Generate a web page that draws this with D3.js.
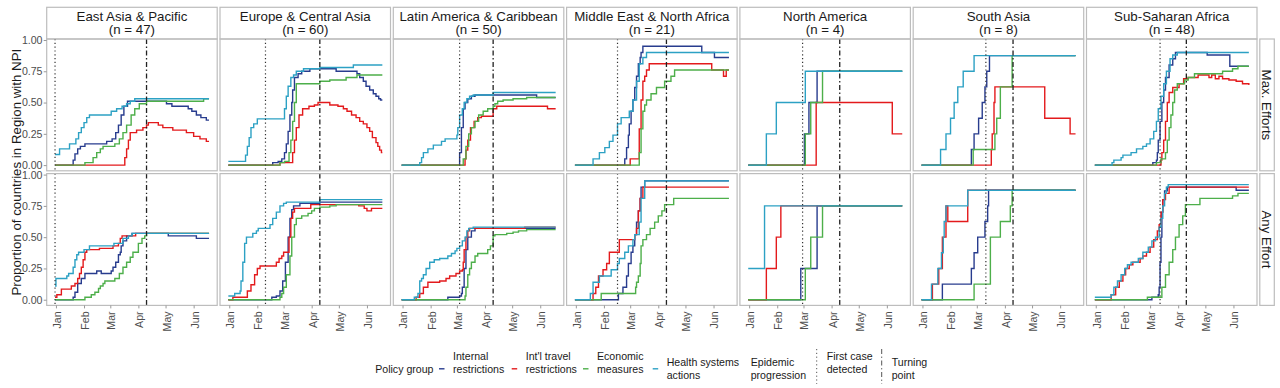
<!DOCTYPE html>
<html>
<head>
<meta charset="utf-8">
<script src="https://cdn.jsdelivr.net/npm/d3@7"></script>
<style>
  body { margin: 0; background: #fff; }
  svg { font-family: "Liberation Sans", Arial, sans-serif; }
</style>
</head>
<body>
<svg id="chart" width="1280" height="388"></svg>
<script>
// Facet columns (regions) and rows (effort level)
var regions = ['East Asia & Pacific', 'Europe & Central Asia', 'Latin America & Caribbean',
               'Middle East & North Africa', 'North America', 'South Asia', 'Sub-Saharan Africa'];
var regionN = [47, 60, 50, 21, 4, 8, 48];
var effortRows = ['Max. Efforts', 'Any Effort'];

var policyGroups = ['Internal\nrestrictions', "Int'l travel\nrestrictions", 'Economic\nmeasures', 'Health systems\nactions'];
var policyColors = ['#283c8e', '#e31a1c', '#4daf4a', '#2ca1c4'];
var epidemicMarkers = ['First case\ndetected', 'Turning\npoint'];

var monthLabels = ['Jan', 'Feb', 'Mar', 'Apr', 'May', 'Jun'];
var yTicks = [0, 0.25, 0.5, 0.75, 1];

// Epidemic progression markers, days since 1 Jan 2020
var firstCaseDay = [-1, 40, 63, 46, 59, 70, 71];
var turningPointDay = [100, 100, 100, 100, 100, 100, 100];

// Step series [day since 1 Jan 2020, proportion]; order: internal, travel, economic, health
var eapMax = [
  [[-1,0],[19,0.04],[21,0.09],[24,0.13],[27,0.15],[32,0.17],[56,0.19],[62,0.21],[66,0.26],[69,0.32],[72,0.4],[75,0.47],[79,0.51],[122,0.49],[128,0.47],[146,0.45],[150,0.43],[155,0.4],[160,0.38],[166,0.36],[169,0.36]],
  [[-1,0],[76,0.06],[78,0.13],[80,0.2],[82,0.26],[89,0.28],[96,0.3],[100,0.32],[102,0.34],[113,0.32],[118,0.3],[129,0.28],[144,0.26],[152,0.23],[159,0.21],[166,0.19],[169,0.19]],
  [[-1,0],[32,0.02],[41,0.06],[45,0.1],[49,0.13],[52,0.15],[65,0.17],[70,0.21],[74,0.26],[78,0.32],[83,0.4],[87,0.45],[92,0.49],[100,0.51],[163,0.53],[169,0.53]],
  [[-1,0.085],[4,0.13],[15,0.17],[22,0.21],[25,0.26],[28,0.3],[31,0.34],[34,0.38],[37,0.4],[61,0.43],[67,0.45],[73,0.47],[78,0.49],[82,0.51],[87,0.53],[169,0.53]]
];
var eapAny = [
  [[-1,0],[19,0.02],[21,0.06],[24,0.13],[28,0.17],[32,0.21],[45,0.23],[50,0.21],[61,0.23],[63,0.26],[66,0.3],[69,0.36],[71,0.38],[72,0.43],[74,0.47],[78,0.51],[84,0.53],[124,0.51],[155,0.49],[169,0.49]],
  [[-1,0.02],[1,0.04],[6,0.085],[17,0.11],[21,0.13],[24,0.17],[26,0.21],[28,0.26],[30,0.32],[32,0.38],[34,0.4],[48,0.41],[63,0.43],[69,0.45],[71,0.49],[73,0.51],[88,0.53],[169,0.53]],
  [[-1,0],[32,0.02],[39,0.04],[43,0.06],[47,0.09],[49,0.11],[52,0.13],[54,0.15],[65,0.17],[70,0.21],[74,0.26],[78,0.3],[82,0.34],[85,0.38],[91,0.45],[95,0.49],[98,0.51],[100,0.53],[169,0.53]],
  [[-1,0.11],[0,0.17],[12,0.19],[14,0.21],[19,0.26],[21,0.32],[23,0.36],[25,0.38],[31,0.4],[37,0.43],[64,0.45],[74,0.49],[80,0.51],[84,0.53],[169,0.53]]
];
var ecaMax = [
  [[-1,0],[48,0.02],[54,0.03],[58,0.05],[61,0.1],[63,0.17],[65,0.27],[67,0.4],[69,0.5],[70,0.6],[72,0.7],[76,0.73],[80,0.75],[89,0.77],[118,0.75],[141,0.73],[144,0.7],[148,0.67],[151,0.63],[155,0.6],[159,0.57],[162,0.55],[165,0.53],[167,0.52],[169,0.52]],
  [[-1,0],[56,0.02],[70,0.1],[72,0.2],[74,0.3],[77,0.4],[81,0.45],[88,0.47],[94,0.48],[98,0.5],[111,0.48],[120,0.47],[126,0.45],[130,0.43],[135,0.4],[140,0.38],[144,0.35],[148,0.33],[152,0.3],[155,0.27],[158,0.22],[162,0.18],[164,0.15],[166,0.12],[168,0.1],[169,0.1]],
  [[-1,0],[56,0.02],[61,0.03],[66,0.1],[68,0.2],[70,0.35],[72,0.5],[74,0.65],[100,0.67],[111,0.68],[129,0.7],[141,0.72],[169,0.72]],
  [[-1,0.03],[18,0.08],[20,0.15],[22,0.22],[24,0.3],[27,0.33],[31,0.37],[61,0.45],[63,0.55],[65,0.63],[68,0.7],[71,0.72],[74,0.75],[82,0.77],[100,0.78],[137,0.8],[169,0.8]]
];
var ecaAny = [
  [[-1,0],[47,0.02],[52,0.03],[56,0.07],[59,0.15],[62,0.3],[65,0.5],[67,0.65],[69,0.72],[71,0.75],[78,0.77],[100,0.78],[169,0.78]],
  [[-1,0],[4,0.02],[20,0.07],[24,0.12],[28,0.2],[31,0.25],[34,0.27],[52,0.3],[55,0.33],[58,0.35],[60,0.38],[66,0.5],[68,0.65],[70,0.7],[72,0.73],[90,0.76],[143,0.75],[149,0.73],[152,0.71],[157,0.73],[169,0.73]],
  [[-1,0],[56,0.02],[58,0.05],[60,0.1],[63,0.2],[67,0.35],[69,0.5],[72,0.6],[74,0.65],[80,0.67],[87,0.69],[91,0.71],[94,0.73],[100,0.74],[111,0.75],[118,0.76],[169,0.76]],
  [[-1,0.03],[6,0.05],[12,0.07],[13,0.15],[15,0.3],[17,0.45],[19,0.5],[26,0.53],[30,0.55],[32,0.57],[45,0.6],[48,0.65],[52,0.7],[56,0.75],[60,0.77],[63,0.78],[100,0.8],[169,0.8]]
];
var lacMax = [
  [[-1,0],[63,0.1],[65,0.3],[67,0.45],[69,0.5],[72,0.53],[76,0.55],[80,0.56],[148,0.54],[169,0.54]],
  [[-1,0],[69,0.05],[70,0.12],[72,0.2],[75,0.3],[79,0.35],[83,0.38],[87,0.39],[100,0.45],[104,0.47],[160,0.45],[169,0.45]],
  [[-1,0],[67,0.05],[70,0.15],[73,0.25],[76,0.3],[80,0.35],[84,0.4],[89,0.43],[94,0.45],[100,0.47],[102,0.49],[105,0.51],[111,0.52],[122,0.53],[137,0.54],[169,0.54]],
  [[-1,0],[19,0.02],[21,0.06],[23,0.1],[28,0.13],[34,0.16],[43,0.19],[47,0.21],[60,0.24],[61,0.3],[63,0.4],[66,0.45],[68,0.5],[71,0.53],[74,0.55],[78,0.56],[100,0.58],[169,0.58]]
];
var lacAny = [
  [[-1,0],[50,0.02],[63,0.03],[65,0.05],[66,0.1],[68,0.25],[70,0.4],[72,0.5],[76,0.55],[80,0.57],[169,0.57]],
  [[-1,0],[15,0.02],[19,0.05],[23,0.1],[28,0.14],[41,0.15],[48,0.17],[52,0.19],[59,0.21],[63,0.23],[66,0.24],[67,0.3],[68,0.4],[70,0.5],[72,0.55],[74,0.57],[135,0.58],[169,0.58]],
  [[-1,0],[69,0.03],[70,0.1],[72,0.2],[74,0.25],[76,0.3],[80,0.35],[83,0.37],[94,0.4],[97,0.43],[100,0.51],[102,0.52],[115,0.53],[122,0.54],[128,0.55],[137,0.56],[169,0.56]],
  [[-1,0],[13,0.02],[17,0.05],[19,0.15],[21,0.17],[23,0.2],[26,0.25],[30,0.3],[35,0.32],[41,0.33],[50,0.35],[54,0.37],[58,0.39],[60,0.41],[63,0.43],[66,0.47],[69,0.5],[71,0.55],[73,0.57],[78,0.58],[169,0.58]]
];
var menaMax = [
  [[-1,0],[54,0.05],[56,0.14],[58,0.24],[59,0.33],[61,0.43],[63,0.52],[65,0.62],[67,0.71],[69,0.81],[71,0.86],[72,0.9],[74,0.95],[139,0.9],[153,0.86],[169,0.86]],
  [[-1,0],[60,0.05],[70,0.29],[72,0.52],[74,0.67],[76,0.71],[78,0.76],[81,0.81],[150,0.76],[163,0.71],[166,0.76],[169,0.76]],
  [[-1,0],[70,0.1],[72,0.29],[74,0.43],[76,0.48],[78,0.52],[83,0.57],[89,0.62],[98,0.67],[105,0.71],[109,0.76],[169,0.76]],
  [[-1,0],[19,0.05],[26,0.1],[32,0.14],[37,0.19],[41,0.24],[46,0.33],[50,0.38],[59,0.43],[63,0.52],[67,0.67],[70,0.81],[74,0.86],[78,0.9],[169,0.9]]
];
var menaAny = [
  [[-1,0],[47,0.05],[52,0.1],[56,0.19],[58,0.29],[61,0.38],[63,0.43],[65,0.52],[67,0.62],[69,0.71],[71,0.81],[72,0.9],[76,0.95],[169,0.95]],
  [[-1,0],[19,0.05],[22,0.1],[25,0.19],[30,0.24],[34,0.29],[37,0.38],[48,0.48],[65,0.52],[67,0.57],[69,0.71],[71,0.81],[74,0.9],[169,0.9]],
  [[-1,0],[28,0.05],[66,0.1],[67,0.14],[69,0.19],[71,0.29],[72,0.43],[74,0.48],[78,0.52],[82,0.57],[87,0.62],[91,0.67],[95,0.71],[98,0.76],[108,0.81],[169,0.81]],
  [[-1,0],[16,0.05],[19,0.14],[26,0.19],[39,0.24],[46,0.29],[48,0.33],[54,0.38],[58,0.43],[63,0.48],[65,0.52],[70,0.62],[72,0.81],[76,0.95],[169,0.95]]
];
var naMax = [
  [[-1,0],[61,0.25],[66,0.5],[75,0.75],[169,0.75]],
  [[-1,0],[74,0.5],[158,0.25],[169,0.25]],
  [[-1,0],[62,0.25],[68,0.5],[81,0.75],[169,0.75]],
  [[-1,0],[19,0.25],[30,0.5],[62,0.75],[169,0.75]]
];
var naAny = [
  [[-1,0],[57,0.25],[75,0.75],[169,0.75]],
  [[-1,0],[19,0.25],[30,0.5],[35,0.75],[169,0.75]],
  [[-1,0],[62,0.25],[68,0.5],[81,0.75],[169,0.75]],
  [[-1,0.25],[17,0.75],[169,0.75]]
];
var saMax = [
  [[-1,0],[54,0.125],[57,0.25],[62,0.375],[66,0.5],[69,0.625],[71,0.75],[74,0.875],[169,0.875]],
  [[-1,0],[76,0.125],[77,0.25],[79,0.5],[80,0.625],[135,0.375],[163,0.25],[169,0.25]],
  [[-1,0],[56,0.125],[80,0.25],[82,0.375],[86,0.625],[99,0.875],[169,0.875]],
  [[-1,0],[20,0.125],[26,0.25],[31,0.375],[35,0.5],[39,0.625],[45,0.75],[57,0.875],[169,0.875]]
];
var saAny = [
  [[-1,0],[22,0.125],[54,0.25],[57,0.375],[61,0.5],[69,0.625],[72,0.75],[73,0.875],[169,0.875]],
  [[-1,0],[11,0.125],[18,0.25],[22,0.5],[26,0.75],[28,0.625],[50,0.875],[169,0.875]],
  [[-1,0],[57,0.125],[75,0.5],[86,0.625],[97,0.75],[99,0.875],[169,0.875]],
  [[-1,0],[10,0.125],[17,0.25],[21,0.375],[23,0.5],[24,0.625],[26,0.75],[50,0.875],[169,0.875]]
];
var ssaMax = [
  [[-1,0],[63,0.02],[67,0.04],[68,0.1],[69,0.2],[71,0.35],[73,0.5],[75,0.6],[77,0.7],[81,0.8],[85,0.85],[88,0.9],[123,0.88],[148,0.79],[169,0.79]],
  [[-1,0],[72,0.04],[73,0.1],[75,0.2],[77,0.35],[79,0.5],[81,0.58],[85,0.62],[92,0.65],[97,0.69],[102,0.7],[113,0.72],[125,0.7],[128,0.72],[132,0.69],[136,0.71],[140,0.69],[147,0.68],[155,0.67],[162,0.65],[169,0.64]],
  [[-1,0],[67,0.02],[72,0.05],[77,0.1],[79,0.2],[81,0.3],[83,0.4],[85,0.5],[87,0.6],[90,0.65],[98,0.68],[102,0.7],[109,0.73],[140,0.75],[151,0.77],[157,0.79],[169,0.79]],
  [[-1,0],[18,0.02],[20,0.04],[28,0.06],[30,0.08],[39,0.1],[45,0.13],[52,0.15],[56,0.17],[60,0.21],[64,0.27],[67,0.35],[69,0.45],[72,0.55],[75,0.65],[78,0.75],[82,0.85],[85,0.88],[90,0.9],[169,0.9]]
];
var ssaAny = [
  [[-1,0],[62,0.02],[69,0.04],[70,0.1],[71,0.3],[72,0.5],[73,0.7],[74,0.8],[76,0.87],[79,0.9],[155,0.875],[169,0.875]],
  [[-1,0],[17,0.04],[22,0.1],[26,0.15],[30,0.2],[33,0.25],[37,0.28],[41,0.3],[49,0.33],[52,0.35],[56,0.38],[60,0.42],[64,0.48],[68,0.55],[70,0.6],[72,0.7],[74,0.8],[77,0.85],[81,0.9],[169,0.9]],
  [[-1,0],[57,0.02],[73,0.1],[77,0.2],[81,0.3],[85,0.4],[88,0.5],[92,0.6],[96,0.67],[99,0.76],[115,0.81],[151,0.83],[157,0.85],[169,0.85]],
  [[-1,0.02],[17,0.04],[20,0.1],[24,0.15],[28,0.2],[32,0.25],[35,0.28],[39,0.3],[47,0.33],[52,0.38],[58,0.42],[62,0.47],[66,0.5],[70,0.58],[72,0.65],[74,0.75],[76,0.85],[78,0.9],[80,0.92],[169,0.92]]
];

var regionSeries = [[eapMax, eapAny], [ecaMax, ecaAny], [lacMax, lacAny], [menaMax, menaAny],
                    [naMax, naAny], [saMax, saAny], [ssaMax, ssaAny]];

// Layout
var panelW = 170.5, panelH = 131.8, gap = 2.8,
    panelLeft = 46.7, panelTop = 39, stripTop = 7.3;
var borderColor = '#bdbdbd', axisGrey = '#4d4d4d';

function colX(i) { return panelLeft + i * (panelW + gap); }
function rowY(j) { return panelTop + j * (panelH + gap); }

var jan1 = new Date(2020, 0, 1);
function toDate(d) { return new Date(jan1.getTime() + d * 864e5); }

var svg = d3.select('#chart');

var x = d3.scaleTime()
          .domain([toDate(-10.2), toDate(178)])
          .range([0, panelW]);

var y = d3.scaleLinear()
          .domain([-0.0454, 1.008])
          .range([panelH, 0]);

var line = d3.line()
             .x(function(d) { return x(toDate(d[0])); })
             .y(function(d) { return y(d[1]); })
             .curve(d3.curveStepAfter);

var monthDates = d3.timeMonth.range(jan1, new Date(2020, 6, 1));

regions.forEach(function(name, i) {
  // Top strip with region name and n
  var strip = svg.append('g')
                 .attr('transform', 'translate(' + colX(i) + ',' + stripTop + ')');
  strip.append('rect')
       .attr('width', panelW)
       .attr('height', panelTop - stripTop)
       .attr('fill', '#fff')
       .attr('stroke', borderColor)
       .attr('stroke-width', 1.2);
  strip.append('text')
       .attr('x', panelW / 2)
       .attr('y', 8.8)
       .attr('dy', '0.35em')
       .attr('text-anchor', 'middle')
       .attr('font-size', 13.3)
       .attr('fill', '#1a1a1a')
       .text(name);
  strip.append('text')
       .attr('x', panelW / 2)
       .attr('y', 22)
       .attr('dy', '0.35em')
       .attr('text-anchor', 'middle')
       .attr('font-size', 13.3)
       .attr('fill', '#1a1a1a')
       .text('(n = ' + regionN[i] + ')');

  effortRows.forEach(function(rowName, j) {
    var g = svg.append('g')
               .attr('transform', 'translate(' + colX(i) + ',' + rowY(j) + ')');

    // Policy group step lines
    regionSeries[i][j].forEach(function(s, k) {
      g.append('path')
       .datum(s)
       .attr('d', line)
       .attr('fill', 'none')
       .attr('stroke', policyColors[k])
       .attr('stroke-width', 1.4);
    });

    // Epidemic progression markers
    g.append('line')
     .attr('x1', x(toDate(firstCaseDay[i])))
     .attr('x2', x(toDate(firstCaseDay[i])))
     .attr('y1', 0)
     .attr('y2', panelH)
     .attr('stroke', '#333')
     .attr('stroke-width', 1.2)
     .attr('stroke-dasharray', '1.2,2.6');
    g.append('line')
     .attr('x1', x(toDate(turningPointDay[i])))
     .attr('x2', x(toDate(turningPointDay[i])))
     .attr('y1', 0)
     .attr('y2', panelH)
     .attr('stroke', '#222')
     .attr('stroke-width', 1.3)
     .attr('stroke-dasharray', '5,2.6,1.3,2.6');

    g.append('rect')
     .attr('width', panelW)
     .attr('height', panelH)
     .attr('fill', 'none')
     .attr('stroke', borderColor)
     .attr('stroke-width', 1.2);
  });

  // x-axis below the bottom row
  var xg = svg.append('g')
              .attr('transform', 'translate(' + colX(i) + ',' + (rowY(1) + panelH) + ')')
              .call(d3.axisBottom(x)
                      .tickValues(monthDates)
                      .tickSize(3)
                      .tickFormat(function(d, k) { return monthLabels[k]; }));
  xg.select('.domain').remove();
  xg.selectAll('.tick line').attr('stroke', '#999');
  xg.selectAll('.tick text')
    .attr('transform', 'rotate(-90)')
    .attr('x', -6)
    .attr('y', 0)
    .attr('dy', '0.42em')
    .attr('text-anchor', 'end')
    .attr('font-size', 10.6)
    .attr('fill', axisGrey);
  xg.attr('font-family', null);
});

// Right strips
effortRows.forEach(function(rowName, j) {
  var rs = svg.append('g')
              .attr('transform', 'translate(' + (colX(6) + panelW + gap) + ',' + rowY(j) + ')');
  rs.append('rect')
    .attr('width', 14.5)
    .attr('height', panelH)
    .attr('fill', '#fff')
    .attr('stroke', borderColor)
    .attr('stroke-width', 1.2);
  rs.append('text')
    .attr('transform', 'translate(7.2,' + (panelH / 2) + ') rotate(90)')
    .attr('dy', '0.35em')
    .attr('text-anchor', 'middle')
    .attr('font-size', 13.3)
    .attr('fill', '#1a1a1a')
    .text(rowName);

  // y-axis on the first column
  var yg = svg.append('g')
              .attr('transform', 'translate(' + colX(0) + ',' + rowY(j) + ')')
              .call(d3.axisLeft(y)
                      .tickValues(yTicks)
                      .tickSize(3)
                      .tickPadding(1.2)
                      .tickFormat(d3.format('.2f')));
  yg.select('.domain').remove();
  yg.attr('font-family', null);
  yg.selectAll('.tick line').attr('stroke', '#999');
  yg.selectAll('.tick text')
    .attr('font-size', 10.6)
    .attr('fill', axisGrey);
});

// y-axis title
svg.append('text')
   .attr('transform', 'translate(16.5,' + ((panelTop + rowY(1) + panelH) / 2) + ') rotate(-90)')
   .attr('dy', '0.35em')
   .attr('text-anchor', 'middle')
   .attr('font-size', 13.3)
   .attr('fill', '#1a1a1a')
   .text('Proportion of countries in Region with NPI');

// Legend
var legend = svg.append('g')
                .attr('font-size', 10.6)
                .attr('fill', '#1a1a1a');

function multiline(xPos, yFirst, label) {
  var t = legend.append('text').attr('x', xPos);
  label.split('\n').forEach(function(part, k) {
    t.append('tspan')
     .attr('x', xPos)
     .attr('y', yFirst + k * 12.3)
     .attr('dy', '0.35em')
     .text(part);
  });
}

var keyY = 368.8;
var policyKeyX = [439, 511.7, 583, 652.7];
var policyLabelY = [356.7, 356.7, 356.7, 362.7];

legend.append('text')
      .attr('x', 433.5)
      .attr('y', keyY)
      .attr('dy', '0.35em')
      .attr('text-anchor', 'end')
      .text('Policy group');

policyGroups.forEach(function(label, k) {
  legend.append('line')
        .attr('x1', policyKeyX[k])
        .attr('x2', policyKeyX[k] + 5.5)
        .attr('y1', keyY)
        .attr('y2', keyY)
        .attr('stroke', policyColors[k])
        .attr('stroke-width', 1.4);
  multiline(policyKeyX[k] + 14, policyLabelY[k], label);
});

multiline(750.7, 362.7, 'Epidemic\nprogression');

var markerKeyX = [816.7, 881.7];
var markerDash = ['1.2,2.6', '5,2.6,1.3,2.6'];
var markerLabelY = [356.7, 362.7];
epidemicMarkers.forEach(function(label, k) {
  legend.append('line')
        .attr('x1', markerKeyX[k])
        .attr('x2', markerKeyX[k])
        .attr('y1', 349)
        .attr('y2', 384)
        .attr('stroke', '#555')
        .attr('stroke-width', 1)
        .attr('stroke-dasharray', markerDash[k]);
  multiline(markerKeyX[k] + 10, markerLabelY[k], label);
});
</script>
</body>
</html>
